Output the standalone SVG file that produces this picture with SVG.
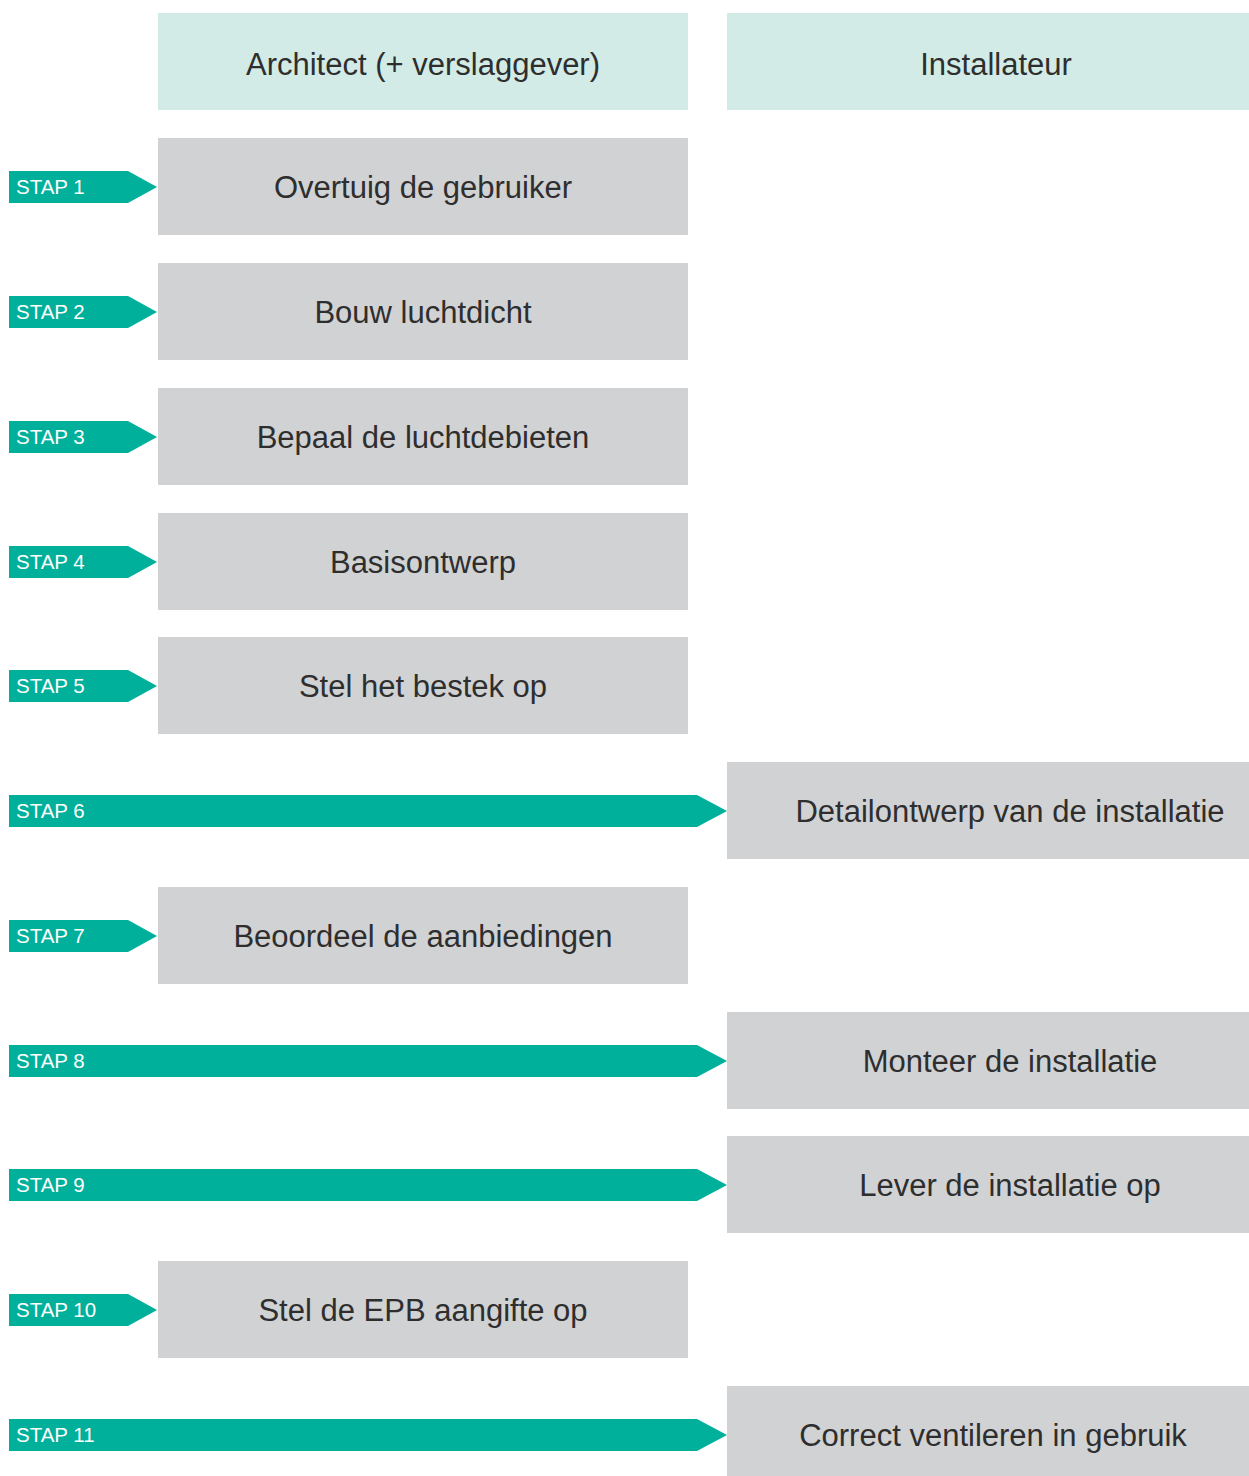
<svg xmlns="http://www.w3.org/2000/svg" width="1249" height="1476" viewBox="0 0 1249 1476">
  <style>
    .hdr { fill: #d2ebe6; }
    .box { fill: #d1d2d4; }
    .arrow { fill: #00b09b; }
    .t { font-family: "Liberation Sans", Arial, sans-serif; font-size: 31px; fill: #2e2e2e; text-anchor: middle; }
    .step { font-family: "Liberation Sans", Arial, sans-serif; font-size: 20.5px; fill: #ffffff; }
  </style>
  <rect width="1249" height="1476" fill="#ffffff"/>

  <!-- column headers -->
  <g id="header-architect">
    <rect class="hdr" x="158" y="13" width="530" height="97"/>
    <text class="t" x="423" y="75">Architect (+ verslaggever)</text>
  </g>
  <g id="header-installateur">
    <rect class="hdr" x="727" y="13" width="522" height="97"/>
    <text class="t" x="996" y="75">Installateur</text>
  </g>

  <!-- step boxes -->
  <g id="step1">
    <rect class="box" x="158" y="138" width="530" height="97"/>
    <text class="t" x="423" y="198">Overtuig de gebruiker</text>
  </g>
  <g id="step2">
    <rect class="box" x="158" y="263" width="530" height="97"/>
    <text class="t" x="423" y="323">Bouw luchtdicht</text>
  </g>
  <g id="step3">
    <rect class="box" x="158" y="388" width="530" height="97"/>
    <text class="t" x="423" y="448">Bepaal de luchtdebieten</text>
  </g>
  <g id="step4">
    <rect class="box" x="158" y="513" width="530" height="97"/>
    <text class="t" x="423" y="573">Basisontwerp</text>
  </g>
  <g id="step5">
    <rect class="box" x="158" y="637" width="530" height="97"/>
    <text class="t" x="423" y="697">Stel het bestek op</text>
  </g>
  <g id="step6">
    <rect class="box" x="727" y="762" width="522" height="97"/>
    <text class="t" x="1010" y="822">Detailontwerp van de installatie</text>
  </g>
  <g id="step7">
    <rect class="box" x="158" y="887" width="530" height="97"/>
    <text class="t" x="423" y="947">Beoordeel de aanbiedingen</text>
  </g>
  <g id="step8">
    <rect class="box" x="727" y="1012" width="522" height="97"/>
    <text class="t" x="1010" y="1072">Monteer de installatie</text>
  </g>
  <g id="step9">
    <rect class="box" x="727" y="1136" width="522" height="97"/>
    <text class="t" x="1010" y="1196">Lever de installatie op</text>
  </g>
  <g id="step10">
    <rect class="box" x="158" y="1261" width="530" height="97"/>
    <text class="t" x="423" y="1321">Stel de EPB aangifte op</text>
  </g>
  <g id="step11">
    <rect class="box" x="727" y="1386" width="522" height="90"/>
    <text class="t" x="993" y="1446">Correct ventileren in gebruik</text>
  </g>

  <!-- step arrows pointing at each box -->
  <g id="connectors">
    <polygon class="arrow" points="9,171 128,171 157,187 128,203 9,203"/>
    <text class="step" x="16" y="194">STAP 1</text>
    <polygon class="arrow" points="9,296 128,296 157,312 128,328 9,328"/>
    <text class="step" x="16" y="319">STAP 2</text>
    <polygon class="arrow" points="9,421 128,421 157,437 128,453 9,453"/>
    <text class="step" x="16" y="444">STAP 3</text>
    <polygon class="arrow" points="9,546 128,546 157,562 128,578 9,578"/>
    <text class="step" x="16" y="569">STAP 4</text>
    <polygon class="arrow" points="9,670 128,670 157,686 128,702 9,702"/>
    <text class="step" x="16" y="693">STAP 5</text>
    <polygon class="arrow" points="9,795 697,795 727,811 697,827 9,827"/>
    <text class="step" x="16" y="818">STAP 6</text>
    <polygon class="arrow" points="9,920 128,920 157,936 128,952 9,952"/>
    <text class="step" x="16" y="943">STAP 7</text>
    <polygon class="arrow" points="9,1045 697,1045 727,1061 697,1077 9,1077"/>
    <text class="step" x="16" y="1068">STAP 8</text>
    <polygon class="arrow" points="9,1169 697,1169 727,1185 697,1201 9,1201"/>
    <text class="step" x="16" y="1192">STAP 9</text>
    <polygon class="arrow" points="9,1294 128,1294 157,1310 128,1326 9,1326"/>
    <text class="step" x="16" y="1317">STAP 10</text>
    <polygon class="arrow" points="9,1419 697,1419 727,1435 697,1451 9,1451"/>
    <text class="step" x="16" y="1442">STAP 11</text>
  </g>
</svg>
